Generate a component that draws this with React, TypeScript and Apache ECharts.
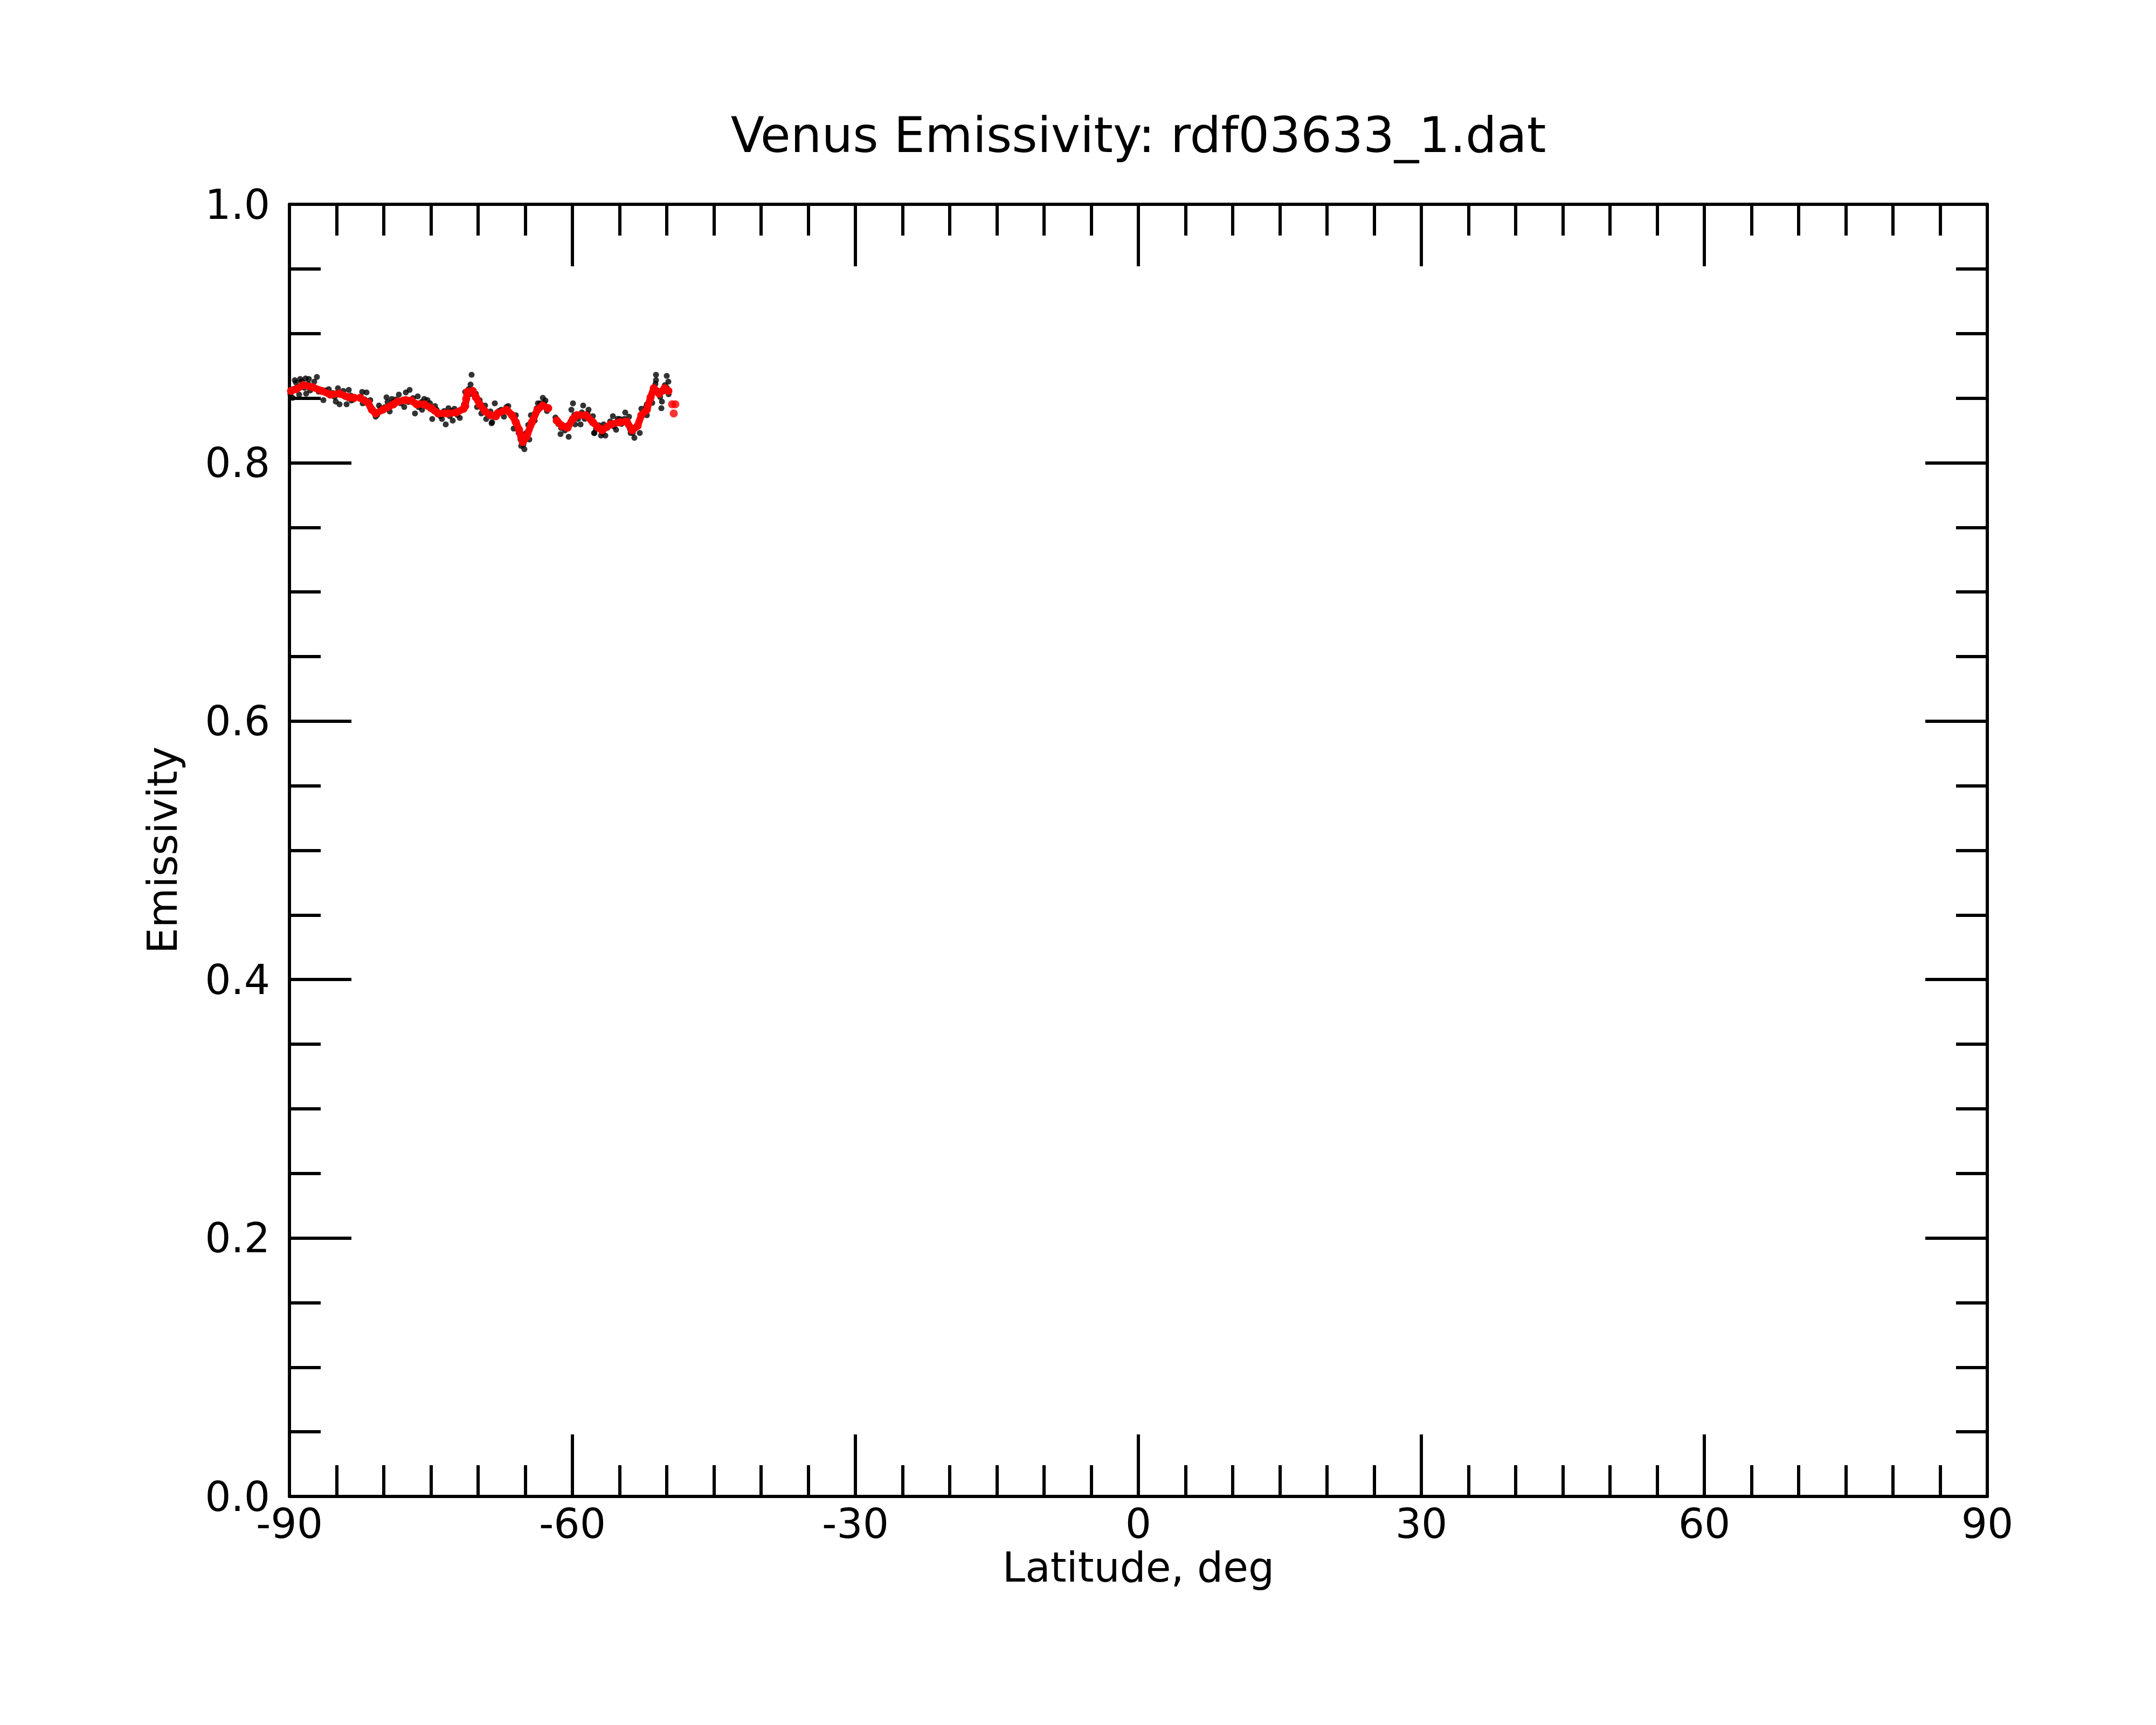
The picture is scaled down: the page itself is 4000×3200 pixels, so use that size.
import React, { useEffect, useRef } from "react";
import * as echarts from "echarts";

const FONT = "DejaVu Sans";

const xTicks = [-90, -60, -30, 0, 30, 60, 90];
const yTicks = [0.0, 0.2, 0.4, 0.6, 0.8, 1.0];

// Raw emissivity samples (black dots), [latitude, emissivity]
const rawPoints: [number, number][] = [
  [-89.66, 0.8502], [-89.43, 0.8639], [-88.97, 0.8527], [-88.86, 0.8648], [-88.29, 0.8652],
  [-88.23, 0.8535], [-87.94, 0.8648], [-87.37, 0.8627], [-87.09, 0.8664], [-86.40, 0.8485],
  [-85.83, 0.8569], [-85.09, 0.8473], [-84.86, 0.8576], [-84.69, 0.8452], [-84.29, 0.8556],
  [-83.94, 0.8452], [-83.71, 0.8564], [-83.43, 0.8481],
  [-89.9, 0.853], [-89.6, 0.857], [-89.3, 0.862], [-89.0, 0.858], [-88.7, 0.863], [-88.4, 0.858],
  [-88.0, 0.861], [-87.8, 0.856], [-87.2, 0.857], [-86.9, 0.855], [-86.2, 0.856], [-85.9, 0.853],
  [-85.4, 0.854], [-85.2, 0.851], [-84.5, 0.853], [-84.1, 0.851], [-83.5, 0.852], [-83.2, 0.849],
  [-82.29, 0.8548], [-81.83, 0.8544], [-82.23, 0.8460], [-81.43, 0.8485], [-80.86, 0.8356],
  [-80.51, 0.8443], [-79.71, 0.8506], [-79.37, 0.8397], [-79.14, 0.8494], [-78.40, 0.8527],
  [-77.83, 0.8431], [-77.66, 0.8544], [-77.26, 0.8564], [-76.69, 0.8381], [-76.40, 0.8514],
  [-75.71, 0.8494], [-75.37, 0.8485], [-75.94, 0.8410], [-74.86, 0.8339], [-74.57, 0.8439],
  [-73.83, 0.8339], [-73.43, 0.8297], [-73.14, 0.8422], [-72.69, 0.8326], [-72.51, 0.8418],
  [-71.94, 0.8347], [-70.69, 0.8681], [-70.80, 0.8606], [-71.37, 0.8548], [-70.23, 0.8535],
  [-69.83, 0.8485], [-70.11, 0.8431], [-69.66, 0.8381], [-69.26, 0.8443], [-69.14, 0.8339],
  [-68.69, 0.8397], [-68.57, 0.8305], [-68.23, 0.8460], [-68.51, 0.8314], [-67.54, 0.8410],
  [-67.26, 0.8356], [-66.80, 0.8439], [-66.00, 0.8368], [-66.23, 0.8264], [-66.00, 0.8305],
  [-65.09, 0.8105], [-65.43, 0.8130], [-64.57, 0.8180], [-64.40, 0.8368], [-64.69, 0.8293],
  [-64.00, 0.8326], [-63.66, 0.8460], [-63.14, 0.8502], [-62.86, 0.8481],
  [-82.4, 0.851], [-82.0, 0.849], [-81.5, 0.843], [-81.0, 0.839], [-80.7, 0.837], [-80.3, 0.842],
  [-79.9, 0.843], [-79.6, 0.847], [-79.0, 0.847], [-78.7, 0.849], [-78.2, 0.846], [-77.9, 0.849],
  [-77.4, 0.847], [-76.9, 0.850], [-76.3, 0.843], [-76.0, 0.847], [-75.5, 0.844], [-75.1, 0.846],
  [-74.7, 0.840], [-74.4, 0.841], [-74.0, 0.836], [-73.6, 0.840], [-73.0, 0.836], [-72.8, 0.840],
  [-72.2, 0.837], [-71.8, 0.841], [-71.5, 0.845], [-71.0, 0.857], [-70.9, 0.853], [-70.4, 0.853],
  [-70.0, 0.848], [-69.5, 0.841], [-69.0, 0.838], [-68.4, 0.836], [-67.8, 0.840], [-67.4, 0.839],
  [-67.0, 0.843], [-66.6, 0.838], [-66.2, 0.834], [-65.9, 0.828], [-65.7, 0.823], [-65.5, 0.818],
  [-65.2, 0.814], [-64.9, 0.823], [-64.6, 0.826], [-64.3, 0.830], [-64.0, 0.838], [-63.8, 0.842],
  [-63.4, 0.846], [-63.0, 0.846], [-62.7, 0.840],
  [-61.26, 0.8222], [-60.40, 0.8201], [-61.43, 0.8314], [-59.94, 0.8460], [-60.11, 0.8410],
  [-58.86, 0.8443], [-58.29, 0.8410], [-59.14, 0.8297], [-59.71, 0.8297], [-57.83, 0.8360],
  [-57.71, 0.8230], [-57.66, 0.8230], [-56.97, 0.8210], [-56.51, 0.8210], [-56.69, 0.8297],
  [-55.71, 0.8360], [-55.37, 0.8255], [-54.97, 0.8339], [-54.40, 0.8389], [-54.00, 0.8356],
  [-53.43, 0.8193], [-53.83, 0.8230], [-52.86, 0.8230], [-52.69, 0.8418], [-52.11, 0.8452],
  [-51.54, 0.8464], [-51.14, 0.8681], [-51.14, 0.8639], [-50.51, 0.8473], [-50.57, 0.8422],
  [-50.00, 0.8672], [-49.83, 0.8627], [-52.11, 0.8368],
  [-61.8, 0.835], [-61.5, 0.830], [-61.2, 0.827], [-60.8, 0.825], [-60.5, 0.829], [-60.2, 0.832],
  [-59.8, 0.837], [-59.4, 0.834], [-59.0, 0.839], [-58.7, 0.834], [-58.4, 0.838], [-58.0, 0.832],
  [-57.5, 0.826], [-57.2, 0.829], [-56.8, 0.823], [-56.3, 0.827], [-56.0, 0.832], [-55.6, 0.828],
  [-55.2, 0.834], [-54.8, 0.830], [-54.5, 0.834], [-54.1, 0.829], [-53.9, 0.826], [-53.6, 0.823],
  [-53.3, 0.827], [-53.0, 0.832], [-52.8, 0.834], [-52.4, 0.838], [-52.2, 0.843], [-51.9, 0.846],
  [-51.7, 0.852], [-51.5, 0.855], [-51.2, 0.861], [-51.0, 0.856], [-50.7, 0.851], [-50.4, 0.855],
  [-50.2, 0.860], [-50.0, 0.858], [-49.8, 0.853],
];

// Smoothed emissivity (red), split where the track has gaps
const smoothSeg1: [number, number][] = [
  [-89.83, 0.8556], [-89.26, 0.8570], [-88.51, 0.8600], [-87.54, 0.8585], [-86.57, 0.8556],
  [-85.66, 0.8527], [-84.69, 0.8535], [-83.71, 0.8506], [-83.14, 0.8502],
];
const smoothSeg2: [number, number][] = [
  [-82.51, 0.8502], [-81.66, 0.8464], [-81.26, 0.8410], [-80.86, 0.8381], [-80.11, 0.8410],
  [-78.97, 0.8452], [-78.57, 0.8473], [-77.66, 0.8485], [-77.09, 0.8481], [-76.51, 0.8452],
  [-75.71, 0.8452], [-74.97, 0.8422], [-74.23, 0.8381], [-73.26, 0.8381], [-72.29, 0.8389],
  [-71.54, 0.8418], [-71.37, 0.8439], [-71.26, 0.8494], [-71.14, 0.8548], [-70.57, 0.8556],
  [-70.23, 0.8506], [-69.83, 0.8452], [-69.26, 0.8397], [-68.69, 0.8368], [-68.11, 0.8360],
  [-67.94, 0.8381], [-66.97, 0.8410], [-66.40, 0.8368], [-66.00, 0.8314], [-65.66, 0.8255],
  [-65.43, 0.8201], [-65.26, 0.8160], [-64.86, 0.8201], [-64.29, 0.8314], [-63.71, 0.8410],
  [-63.14, 0.8443], [-62.57, 0.8422],
];
const smoothSeg3: [number, number][] = [
  [-61.66, 0.8326], [-61.09, 0.8285], [-60.51, 0.8272], [-59.94, 0.8339], [-59.54, 0.8368],
  [-58.57, 0.8368], [-57.83, 0.8314], [-57.26, 0.8272], [-56.86, 0.8251], [-55.94, 0.8297],
  [-54.97, 0.8314], [-54.23, 0.8318], [-53.66, 0.8251], [-53.09, 0.8285], [-52.69, 0.8368],
  [-52.11, 0.8410], [-51.71, 0.8506], [-51.37, 0.8576], [-50.80, 0.8535], [-50.23, 0.8576],
  [-49.83, 0.8556],
];
const smoothSeg4: [number, number][] = [
  [-49.43, 0.8452], [-49.26, 0.8381], [-49.09, 0.8452],
];

const AX = "#000";
const LW = 6;

function axisCommon(showLabel: boolean, isY: boolean) {
  return {
    axisLine: { show: true, onZero: false, lineStyle: { color: AX, width: LW } },
    axisTick: { show: true, inside: true, length: 115, lineStyle: { color: AX, width: LW } },
    minorTick: {
      show: true,
      splitNumber: isY ? 4 : 6,
      length: 58,
      lineStyle: { color: AX, width: LW },
    },
    splitLine: { show: false },
    minorSplitLine: { show: false },
    axisLabel: {
      show: showLabel,
      margin: isY ? 36 : 12,
      fontSize: 76,
      fontFamily: FONT,
      color: AX,
      formatter: isY
        ? (v: number) => v.toFixed(1)
        : (v: number) => String(v),
    },
  };
}

export default function App() {
  const ref = useRef<HTMLDivElement>(null);
  useEffect(() => {
    if (!ref.current) return;
    const chart = echarts.init(ref.current, undefined, { renderer: "svg" });
    const redLine = (data: [number, number][]) => ({
      type: "line",
      data,
      z: 3,
      showSymbol: true,
      symbol: "circle",
      symbolSize: 15,
      itemStyle: { color: "#ff0000" },
      lineStyle: { color: "#ff0000", width: 13, cap: "round", join: "round" },
      silent: true,
    });
    chart.setOption({
      animation: false,
      backgroundColor: "#ffffff",
      grid: { left: 537, top: 379, right: 313, bottom: 424, containLabel: false },
      xAxis: [
        {
          type: "value",
          min: xTicks[0],
          max: xTicks[xTicks.length - 1],
          interval: 30,
          position: "bottom",
          ...axisCommon(true, false),
        },
        {
          type: "value",
          min: xTicks[0],
          max: xTicks[xTicks.length - 1],
          interval: 30,
          position: "top",
          ...axisCommon(false, false),
        },
      ],
      yAxis: [
        {
          type: "value",
          min: yTicks[0],
          max: yTicks[yTicks.length - 1],
          interval: 0.2,
          position: "left",
          ...axisCommon(true, true),
        },
        {
          type: "value",
          min: yTicks[0],
          max: yTicks[yTicks.length - 1],
          interval: 0.2,
          position: "right",
          ...axisCommon(false, true),
        },
      ],
      series: [
        {
          type: "scatter",
          data: rawPoints,
          symbol: "circle",
          symbolSize: 11,
          itemStyle: { color: "#000000" },
          z: 2,
          silent: true,
        },
        redLine(smoothSeg1),
        redLine(smoothSeg2),
        redLine(smoothSeg3),
        {
          type: "scatter",
          data: smoothSeg4,
          symbol: "circle",
          symbolSize: 15,
          itemStyle: { color: "#ff0000" },
          z: 3,
          silent: true,
        },
      ],
      graphic: [
        {
          type: "text",
          x: 2112,
          y: 250,
          style: {
            text: "Venus Emissivity: rdf03633_1.dat",
            fontSize: 91,
            fontFamily: FONT,
            fill: AX,
            align: "center",
            verticalAlign: "middle",
          },
        },
        {
          type: "text",
          x: 2112,
          y: 2907,
          style: {
            text: "Latitude, deg",
            fontSize: 76,
            fontFamily: FONT,
            fill: AX,
            align: "center",
            verticalAlign: "middle",
          },
        },
        {
          type: "text",
          x: 301,
          y: 1577,
          rotation: Math.PI / 2,
          style: {
            text: "Emissivity",
            fontSize: 76,
            fontFamily: FONT,
            fill: AX,
            align: "center",
            verticalAlign: "middle",
          },
        },
      ],
    });
    return () => chart.dispose();
  }, []);
  return (
    <div
      ref={ref}
      style={{ position: "absolute", left: 0, top: 0, width: 4000, height: 3200, background: "#fff" }}
    />
  );
}
